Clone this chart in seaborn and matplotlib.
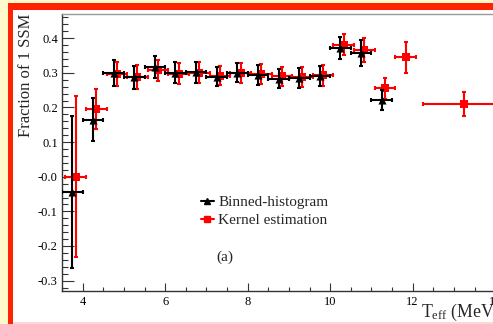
import numpy as np
import pandas as pd
import matplotlib
matplotlib.use("Agg")
import matplotlib.pyplot as plt
import seaborn as sns
from matplotlib.patches import Rectangle
from matplotlib.lines import Line2D
from matplotlib.ticker import FixedLocator, FixedFormatter, MultipleLocator

# ---- data ----
black_x = [3.75, 4.25, 4.75, 5.25, 5.75, 6.25, 6.75, 7.25, 7.75, 8.25, 8.75, 9.25, 9.75, 10.25, 10.75, 11.25]
black_y = [-0.045, 0.165, 0.300, 0.287, 0.316, 0.300, 0.302, 0.289, 0.301, 0.294, 0.283, 0.285, 0.291, 0.372, 0.357, 0.222]
black_yerr = [0.22, 0.062, 0.037, 0.034, 0.032, 0.030, 0.030, 0.028, 0.028, 0.028, 0.028, 0.028, 0.030, 0.033, 0.037, 0.028]
black_xerr = [0.25] * 16

red_x = [3.83, 4.33, 4.83, 5.33, 5.83, 6.33, 6.83, 7.33, 7.83, 8.33, 8.83, 9.33, 9.83, 10.33, 10.83, 11.33, 11.83, 13.25]
red_y = [0.0, 0.195, 0.297, 0.288, 0.307, 0.298, 0.300, 0.292, 0.300, 0.297, 0.290, 0.288, 0.293, 0.381, 0.365, 0.255, 0.345, 0.210]
red_yerr = [0.232, 0.057, 0.035, 0.034, 0.030, 0.030, 0.030, 0.028, 0.028, 0.028, 0.028, 0.028, 0.030, 0.030, 0.035, 0.031, 0.045, 0.034]
red_xerr = [0.25] * 17 + [1.0]

ytick_vals = [-0.3, -0.2, -0.1, 0.0, 0.1, 0.2, 0.3, 0.4]
ytick_labels = ["-0.3", "-0.2", "-0.1", "-0.0", "0.1", "0.2", "0.3", "0.4"]
xtick_vals = [4, 6, 8, 10, 12, 14]
xtick_labels = ["4", "6", "8", "10", "12", "14"]
series_names = ["Binned-histogram", "Kernel estimation"]

df_black = pd.DataFrame({"x": black_x, "y": black_y})
df_red = pd.DataFrame({"x": red_x, "y": red_y})

# ---- style ----
sns.set_theme(style="ticks")
plt.rcParams["font.family"] = ["Liberation Serif", "DejaVu Serif"]
plt.rcParams["mathtext.fontset"] = "custom"
plt.rcParams["mathtext.rm"] = "Liberation Serif"

W, H = 493, 324
fig = plt.figure(figsize=(W / 100, H / 100), dpi=100, facecolor="white")

def px_rect(x0, y0, w, h, color):
    # pixel coords from top-left
    fig.add_artist(Rectangle((x0 / W, 1 - (y0 + h) / H), w / W, h / H,
                             transform=fig.transFigure, facecolor=color,
                             edgecolor="none", zorder=-10))

yellow = "#FFF9CC"
red_border = "#FF2200"
px_rect(0, 0, 8, H, yellow)
px_rect(0, 0, W, 3, yellow)
px_rect(8, 3, 5, H - 3, red_border)
px_rect(8, 3, W - 8, 7, red_border)
px_rect(13, 322, W - 13, 2, "#FFD6D6")

# axes: left=62px, bottom=291px, top=14px, xlim 3.5..14.5
x0, x1 = 3.5, 14.5
ppu = 41.25
ax_left = 62
ax_w = (x1 - x0) * ppu
ax = fig.add_axes([ax_left / W, (H - 291) / H, ax_w / W, (291 - 14) / H])
ax.set_facecolor("white")

ax.set_xlim(x0, x1)
ax.set_ylim(-0.33, 0.47)

# error bars (red first, black on top)
ax.errorbar(red_x, red_y, xerr=red_xerr, yerr=red_yerr, fmt="none",
            ecolor="#FF0000", elinewidth=1.5, capsize=1.5, capthick=1.5, zorder=2)
ax.errorbar(black_x, black_y, xerr=black_xerr, yerr=black_yerr, fmt="none",
            ecolor="black", elinewidth=1.5, capsize=1.5, capthick=1.5, zorder=4)

sns.scatterplot(data=df_red, x="x", y="y", marker="s", color="#FF0000", s=28,
                edgecolor="#FF0000", linewidth=0, ax=ax, zorder=3)
sns.scatterplot(data=df_black, x="x", y="y", marker="^", color="black", s=34,
                edgecolor="black", linewidth=0, ax=ax, zorder=5)

ax.set_xlabel("")
ax.set_ylabel("Fraction of 1 SSM", fontsize=12, loc="top", labelpad=3)

ax.yaxis.set_major_locator(FixedLocator(ytick_vals))
ax.yaxis.set_major_formatter(FixedFormatter(ytick_labels))
ax.yaxis.set_minor_locator(MultipleLocator(0.02))
ax.xaxis.set_major_locator(FixedLocator(xtick_vals))
ax.xaxis.set_major_formatter(FixedFormatter(xtick_labels))
ax.xaxis.set_minor_locator(MultipleLocator(0.5))

ax.tick_params(axis="y", which="major", direction="in", length=8.4, width=0.8,
               labelsize=9, pad=3, colors="#333333", labelcolor="black")
ax.tick_params(axis="y", which="minor", direction="in", length=4.3, width=0.8,
               colors="#333333")
ax.tick_params(axis="x", which="major", direction="in", length=5.8, width=0.8,
               labelsize=9, pad=3.5, colors="#333333", labelcolor="black")
ax.tick_params(axis="x", which="minor", direction="in", length=2.9, width=0.8,
               colors="#333333")

for side in ["left", "bottom"]:
    ax.spines[side].set_color("#333333")
    ax.spines[side].set_linewidth(1.0)
ax.spines["top"].set_color("#999999")
ax.spines["top"].set_linewidth(1.0)
ax.spines["right"].set_visible(False)

handles = [
    Line2D([], [], color="black", marker="^", markersize=5, linewidth=1.5),
    Line2D([], [], color="#FF0000", marker="s", markersize=4.5, linewidth=1.5),
]
ax.legend(handles, series_names, loc="center left",
          bbox_to_anchor=((200.7 - ax_left) / ax_w, (291 - 211.4) / 277),
          frameon=False, fontsize=11, handlelength=0.85, handletextpad=0.3,
          labelspacing=0.3, borderpad=0, borderaxespad=0)

ax.text((216.7 - ax_left) / ax_w, (291 - 257) / 277, "(a)", transform=ax.transAxes,
        fontsize=11, ha="left", va="center")

fig.text(421 / W, (H - 316.7) / H, r"$\mathregular{T_{eff}}$ (MeV)", fontsize=12.8,
         ha="left", va="baseline")

fig.savefig("out.png", dpi=100, facecolor=fig.get_facecolor())
